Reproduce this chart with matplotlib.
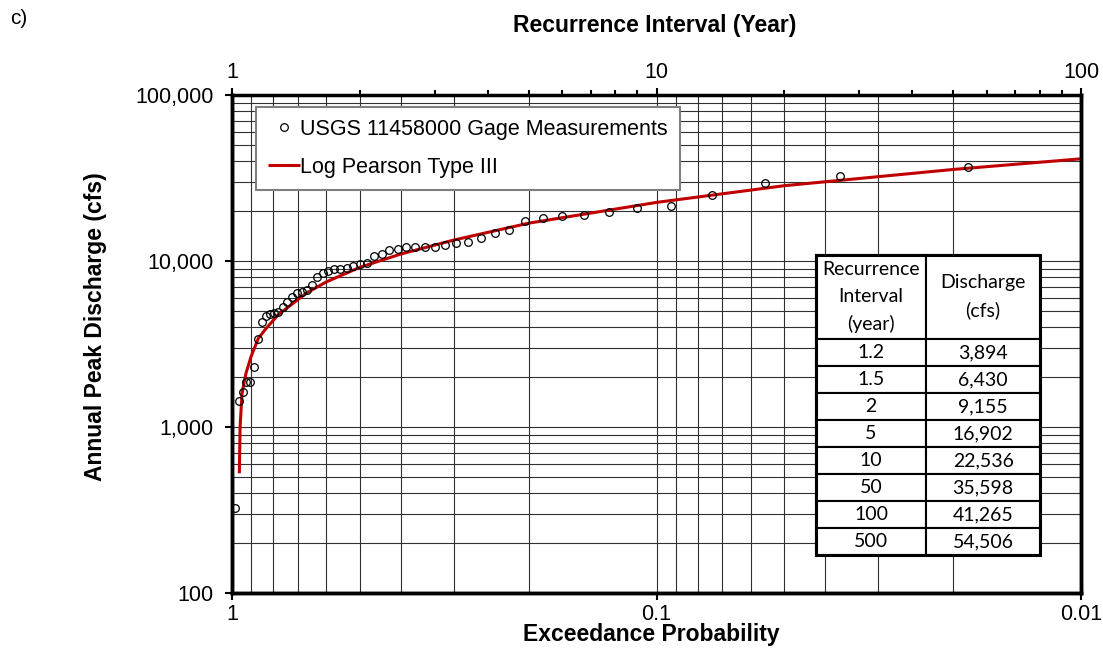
import numpy as np
import matplotlib
matplotlib.use('Agg')
import matplotlib.pyplot as plt
from matplotlib.ticker import FuncFormatter, NullFormatter, FixedLocator
from matplotlib.patches import Rectangle

plt.rcParams['font.family'] = ['Liberation Sans', 'DejaVu Sans']

# gage measurements (Weibull plotting position, ranked largest first)
exceed_prob = [0.0185, 0.0370, 0.0556, 0.0741, 0.0926, 0.1111, 0.1296, 0.1481,
               0.1667, 0.1852, 0.2037, 0.2222, 0.2407, 0.2593, 0.2778, 0.2963,
               0.3148, 0.3333, 0.3519, 0.3704, 0.3889, 0.4074, 0.4259, 0.4444,
               0.4630, 0.4815, 0.5000, 0.5185, 0.5370, 0.5556, 0.5741, 0.5926,
               0.6111, 0.6296, 0.6481, 0.6667, 0.6852, 0.7037, 0.7222, 0.7407,
               0.7593, 0.7778, 0.7963, 0.8148, 0.8333, 0.8519, 0.8704, 0.8889,
               0.9074, 0.9259, 0.9444, 0.9630, 0.9815]
peak_q = [37000, 32500, 29500, 25000, 21400, 20900, 19700, 19000,
          18600, 18100, 17300, 15300, 14700, 13850, 13100, 12900,
          12400, 12200, 12100, 12150, 12150, 11800, 11700, 11070,
          10760, 9750, 9610, 9330, 9120, 8950, 8950, 8745,
          8505, 8047, 7140, 6660, 6508, 6390, 6094, 5686,
          5308, 4950, 4883, 4795, 4677, 4310, 3375, 2310,
          1875, 1875, 1618, 1434, 324]

# Log Pearson Type III fitted curve
lp3_prob = [0.961, 0.957, 0.947, 0.927, 0.902, 0.867, 0.8333, 0.778, 0.6667,
            0.598, 0.5, 0.4, 0.3, 0.2, 0.1, 0.05, 0.02, 0.01]
lp3_q = [526, 1004, 1596, 2106, 2652, 3420, 3894, 4750, 6430,
         7505, 9155, 11020, 13380, 16902, 22536, 28420, 35598, 41265]

# summary table
table_interval = ['1.2', '1.5', '2', '5', '10', '50', '100', '500']
table_discharge = [3894, 6430, 9155, 16902, 22536, 35598, 41265, 54506]

fig = plt.figure(figsize=(11.03, 6.72), dpi=100)
ax = fig.add_axes([232/1103, 1-593/672, 849/1103, 498/672])

ax.plot(lp3_prob, lp3_q, color='#C00000', lw=2.2, zorder=3,
        label='Log Pearson Type III', solid_capstyle='butt')
ax.plot(exceed_prob, peak_q, 'o', mfc='none', mec='black', ms=5.5, mew=0.9,
        zorder=4, label='USGS 11458000 Gage Measurements')

ax.set_xscale('log')
ax.set_yscale('log')
ax.set_xlim(1, 0.01)
ax.set_ylim(100, 100000)
ax.xaxis.set_major_locator(FixedLocator([1, 0.1, 0.01]))
ax.xaxis.set_major_formatter(FuncFormatter(lambda v, _: f'{v:g}'))
ax.xaxis.set_minor_formatter(NullFormatter())
ax.yaxis.set_major_formatter(FuncFormatter(lambda v, _: f'{v:,.0f}'))
ax.yaxis.set_minor_formatter(NullFormatter())
ax.grid(which='both', color='#303030', lw=0.8)
ax.tick_params(which='major', direction='out', length=5, width=1.5,
               labelsize=15.5, pad=3)
ax.tick_params(axis='y', which='major', pad=8)
ax.tick_params(which='minor', length=0)
for s in ax.spines.values():
    s.set_linewidth(2.5)

ax.set_xlabel('Exceedance Probability', fontsize=16.5, fontweight='bold')
ax.xaxis.set_label_coords(0.494, -0.061)
ax.set_ylabel('Annual Peak Discharge (cfs)', fontsize=16.5, fontweight='bold')
ax.yaxis.set_label_coords(-0.147, 0.534)

# top axis: recurrence interval
ax2 = ax.twiny()
ax2.set_xscale('log')
ax2.set_xlim(1, 100)
ax2.xaxis.set_major_formatter(FuncFormatter(lambda v, _: f'{v:g}'))
ax2.xaxis.set_minor_formatter(NullFormatter())
ax2.tick_params(which='major', direction='out', length=5, width=1.5,
                labelsize=15.5, pad=4)
ax2.tick_params(which='minor', direction='out', length=3.5, width=1.5)
for s in ax2.spines.values():
    s.set_linewidth(2.5)
ax2.spines['top'].set_linewidth(2)
ax2.set_xlabel('Recurrence Interval (Year)', fontsize=16.5, fontweight='bold')
ax2.xaxis.set_label_coords(0.498, 1.1265)

h, l = ax.get_legend_handles_labels()
leg = ax.legend(h[::-1], l[::-1], loc='upper left', bbox_to_anchor=(0.028, 0.976),
                borderaxespad=0, fontsize=15.5, handlelength=1.5, handletextpad=0.02,
                labelspacing=0.8, fancybox=False, framealpha=1, borderpad=0.55)
leg.get_frame().set_edgecolor('#7f7f7f')
leg.get_frame().set_linewidth(1.5)
leg.set_zorder(6)

# discharge table
rows = [[ri, f'{q:,}'] for ri, q in zip(table_interval, table_discharge)]
tb = ax.table(cellText=rows, colLabels=['Recurrence\nInterval\n(year)', 'Discharge\n(cfs)'],
              cellLoc='center', bbox=[0.688, 0.0763, 0.2638, 0.6024], zorder=7)
tb.auto_set_font_size(False)
for (r, c), cell in tb.get_celld().items():
    cell.set_height(84 if r == 0 else 27)
    cell.set_width(110 if c == 0 else 114)
    cell.set_linewidth(1.5)
    cell.set_facecolor('white')
    cell.get_text().set_fontsize(14)
    cell.get_text().set_fontfamily(['Lato', 'DejaVu Sans'])
    cell.get_text().set_linespacing(1.68)
ax.add_patch(Rectangle((0.688, 0.0763), 0.2638, 0.6024, transform=ax.transAxes,
                       fill=False, lw=2.2, ec='black', zorder=8))

fig.text(0.009, 0.973, 'c)', fontsize=15, va='center')

fig.savefig('out.png', dpi=100)
